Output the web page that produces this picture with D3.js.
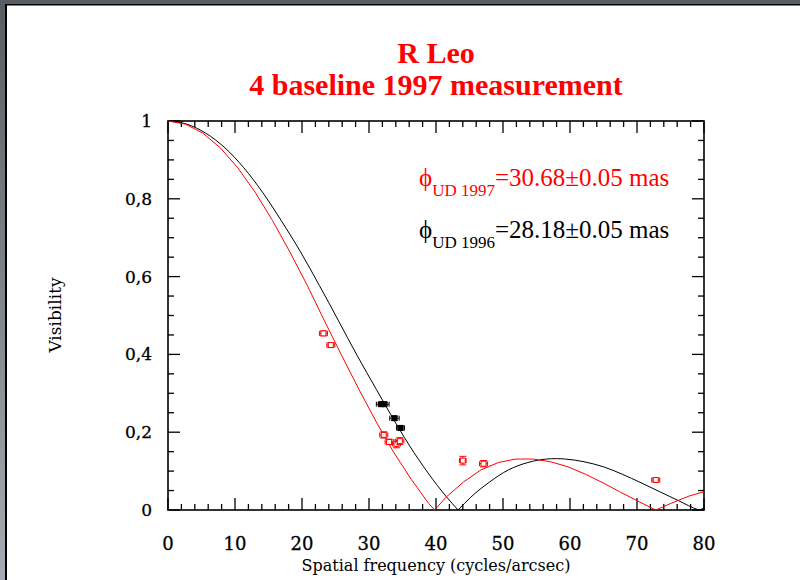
<!DOCTYPE html>
<html>
<head>
<meta charset="utf-8">
<script src="https://cdn.jsdelivr.net/npm/d3@7"></script>
<style>
	body { margin: 0; background: #fff; }
	svg { display: block; }
</style>
</head>
<body>
<div id="chart"></div>
<script>
const dest		= '#chart';

// model curves (spatial frequency, visibility)
const redFreq	= [0, 2.6, 5.2, 7.8, 10.4, 13.0, 15.6, 18.2, 20.8, 23.3, 25.9, 28.5, 31.1, 33.7, 36.3, 38.9, 39.8, 41.5, 44.1, 46.7, 49.3, 51.9, 54.5, 57.1, 59.7, 62.3, 64.9, 67.4, 70.0, 72.8, 75.2, 77.8, 80.0];
const redVis	= [1, 0.992, 0.969, 0.931, 0.880, 0.817, 0.744, 0.663, 0.577, 0.488, 0.398, 0.310, 0.226, 0.148, 0.079, 0.017, 0, 0.033, 0.072, 0.103, 0.122, 0.131, 0.131, 0.124, 0.111, 0.092, 0.070, 0.047, 0.024, 0, 0.018, 0.036, 0.047];

const blackFreq	= [0, 2.8, 5.6, 8.5, 11.3, 14.1, 16.9, 19.8, 22.6, 25.4, 28.2, 31.1, 33.9, 36.7, 39.5, 42.4, 43.3, 45.2, 48.0, 50.8, 53.7, 56.5, 58.0, 59.3, 62.1, 65.0, 67.8, 70.6, 73.4, 76.2, 79.1, 79.3, 80.0];
const blackVis	= [1, 0.992, 0.969, 0.931, 0.880, 0.817, 0.744, 0.663, 0.577, 0.488, 0.398, 0.310, 0.226, 0.148, 0.079, 0.017, 0, 0.033, 0.072, 0.103, 0.122, 0.131, 0.132, 0.131, 0.124, 0.111, 0.092, 0.070, 0.047, 0.024, 0.001, 0, 0.005];

// measurements
const redPtF	= [23.2, 24.3, 32.2, 33.0, 34.1, 34.6, 44.0, 47.1, 72.8];
const redPtV	= [0.454, 0.424, 0.193, 0.175, 0.170, 0.177, 0.127, 0.119, 0.077];
const redErrF	= [0.6, 0.6, 0.6, 0.6, 0.6, 0.6, 0.5, 0.6, 0.6];
const redErrV	= [0.006, 0.006, 0.008, 0.007, 0.010, 0.009, 0.011, 0.008, 0.005];

const blackPtF	= [31.8, 32.3, 33.8, 34.7];
const blackPtV	= [0.272, 0.272, 0.236, 0.211];
const blackErrF	= [0.7, 0.7, 0.7, 0.6];
const blackErrV	= [0.004, 0.004, 0.005, 0.005];

const xTicks	= [0, 10, 20, 30, 40, 50, 60, 70, 80];
const yTicks	= [0, 0.2, 0.4, 0.6, 0.8, 1];
const yLabels	= ['0', '0,2', '0,4', '0,6', '0,8', '1'];

const serif		= '"DejaVu Serif", serif';
const times		= '"Liberation Serif", "Times New Roman", serif';

let width		= 800;
let height		= 580;
let plot		= { left: 168, right: 704, top: 121, bottom: 510 };

let x			= d3.scaleLinear().domain([0, 80]).range([plot.left, plot.right]);
let y			= d3.scaleLinear().domain([0, 1]).range([plot.bottom, plot.top]);

let svg = d3.select(dest).append('svg')
	.attr('width', width)
	.attr('height', height);

// page edge
let grad = svg.append('defs').append('linearGradient')
	.attr('id', 'edge').attr('x1', 0).attr('y1', 0).attr('x2', 0).attr('y2', 1);
grad.append('stop').attr('offset', 0).attr('stop-color', '#575d63');
grad.append('stop').attr('offset', 1).attr('stop-color', '#a3acb4');

svg.append('rect').attr('x', 0).attr('y', 0).attr('width', width).attr('height', 4).attr('fill', '#575d63');
svg.append('rect').attr('x', 0).attr('y', 0).attr('width', 5).attr('height', height).attr('fill', 'url(#edge)');
svg.append('rect').attr('x', 5).attr('y', 4).attr('width', width - 5).attr('height', 1.5).attr('fill', '#000');
svg.append('rect').attr('x', 5).attr('y', 4).attr('width', 2).attr('height', height - 4).attr('fill', '#000');

// titles
svg.append('text')
	.attr('x', x(40)).attr('y', 63)
	.attr('text-anchor', 'middle')
	.attr('font-family', times).attr('font-weight', 'bold').attr('font-size', 30)
	.attr('fill', '#ff0000')
	.text('R Leo');

svg.append('text')
	.attr('x', x(40)).attr('y', 95)
	.attr('text-anchor', 'middle')
	.attr('font-family', times).attr('font-weight', 'bold').attr('font-size', 30)
	.attr('fill', '#ff0000')
	.text('4 baseline 1997 measurement');

// ticks
let xMinor = d3.range(0, 81, 2);
let yMinor = d3.range(0, 1.001, 0.05);
let tickG = svg.append('g').attr('stroke', '#000').attr('stroke-width', 1.3);

tickG.selectAll('.xb')
	.data(xMinor)
	.enter().append('line')
	.attr('x1', (o) => x(o)).attr('x2', (o) => x(o))
	.attr('y1', plot.bottom).attr('y2', (o) => plot.bottom - (o % 10 == 0 ? 12 : 6));

tickG.selectAll('.xt')
	.data(xMinor)
	.enter().append('line')
	.attr('x1', (o) => x(o)).attr('x2', (o) => x(o))
	.attr('y1', plot.top).attr('y2', (o) => plot.top + (o % 10 == 0 ? 12 : 6));

tickG.selectAll('.yl')
	.data(yMinor)
	.enter().append('line')
	.attr('y1', (o) => y(o)).attr('y2', (o) => y(o))
	.attr('x1', plot.left).attr('x2', (o, i) => plot.left + (i % 4 == 0 ? 12 : 6));

tickG.selectAll('.yr')
	.data(yMinor)
	.enter().append('line')
	.attr('y1', (o) => y(o)).attr('y2', (o) => y(o))
	.attr('x1', plot.right).attr('x2', (o, i) => plot.right - (i % 4 == 0 ? 12 : 6));

svg.append('rect')
	.attr('x', plot.left).attr('y', plot.top)
	.attr('width', plot.right - plot.left).attr('height', plot.bottom - plot.top)
	.attr('fill', 'none').attr('stroke', '#000').attr('stroke-width', 1.6);

// tick labels
svg.append('g')
	.selectAll('text')
	.data(xTicks)
	.enter().append('text')
	.attr('x', (o) => x(o)).attr('y', 550)
	.attr('text-anchor', 'middle')
	.attr('font-family', serif).attr('font-size', 18)
	.attr('stroke', '#000').attr('stroke-width', 0.3)
	.text((o) => o);

svg.append('g')
	.selectAll('text')
	.data(yTicks)
	.enter().append('text')
	.attr('x', 152).attr('y', (o) => y(o) + 6)
	.attr('text-anchor', 'end')
	.attr('font-family', serif).attr('font-size', 17)
	.attr('stroke', '#000').attr('stroke-width', 0.3)
	.text((o, i) => yLabels[i]);

// axis titles
svg.append('text')
	.attr('x', x(40)).attr('y', 571)
	.attr('text-anchor', 'middle')
	.attr('font-family', serif).attr('font-size', 16)
	.text('Spatial frequency (cycles/arcsec)');

svg.append('text')
	.attr('transform', 'translate(61,315) rotate(-90)')
	.attr('text-anchor', 'middle')
	.attr('font-family', serif).attr('font-size', 17)
	.text('Visibility');

// model curves, split at the zeros so the cusps stay sharp
function lobes(fs, vs) {
	let out = [], cur = [];
	fs.forEach((f, i) => {
		cur.push([f, vs[i]]);
		if (vs[i] == 0 && i > 0 && i < fs.length - 1) { out.push(cur); cur = [[f, vs[i]]]; }
	});
	out.push(cur);
	return out;
}

let smooth	= d3.line().x((o) => x(o[0])).y((o) => y(o[1])).curve(d3.curveMonotoneX);
let straight	= d3.line().x((o) => x(o[0])).y((o) => y(o[1]));

svg.append('g')
	.selectAll('path')
	.data(lobes(blackFreq, blackVis))
	.enter().append('path')
	.attr('d', smooth)
	.attr('fill', 'none').attr('stroke', '#000').attr('stroke-width', 1);

svg.append('path')
	.attr('d', straight(redFreq.map((f, i) => [f, redVis[i]])))
	.attr('fill', 'none').attr('stroke', '#ff0000').attr('stroke-width', 1);

// measured points with error bars
function drawPoints(fs, vs, ef, ev, color, filled) {
	let g = svg.append('g').attr('stroke', color).attr('stroke-width', 1);
	fs.forEach((f, i) => {
		let cx = x(f), cy = y(vs[i]);
		let x0 = x(f - ef[i]), x1 = x(f + ef[i]);
		let y0 = y(vs[i] - ev[i]), y1 = y(vs[i] + ev[i]);
		g.append('line').attr('x1', x0).attr('x2', x1).attr('y1', cy).attr('y2', cy);
		g.append('line').attr('x1', x0).attr('x2', x0).attr('y1', cy - 2.5).attr('y2', cy + 2.5);
		g.append('line').attr('x1', x1).attr('x2', x1).attr('y1', cy - 2.5).attr('y2', cy + 2.5);
		g.append('line').attr('x1', cx).attr('x2', cx).attr('y1', y0).attr('y2', y1);
		g.append('line').attr('x1', cx - 3.5).attr('x2', cx + 3.5).attr('y1', y0).attr('y2', y0);
		g.append('line').attr('x1', cx - 3.5).attr('x2', cx + 3.5).attr('y1', y1).attr('y2', y1);
		g.append('rect').attr('x', cx - 2.5).attr('y', cy - 2.5).attr('width', 5).attr('height', 5)
			.attr('fill', filled ? color : '#fff');
	});
}

drawPoints(redPtF, redPtV, redErrF, redErrV, '#ff0000', false);
drawPoints(blackPtF, blackPtV, blackErrF, blackErrV, '#000', true);

// diameter labels
function diameter(yy, sub, rest, color) {
	let t = svg.append('text')
		.attr('x', 419).attr('y', yy)
		.attr('font-family', times).attr('font-size', 25)
		.attr('fill', color);
	t.append('tspan').text('\u03d5');
	t.append('tspan').attr('font-size', 17).attr('dy', 10).text(sub);
	t.append('tspan').attr('dy', -10).text(rest);
}

diameter(186, 'UD 1997', '=30.68\u00b10.05 mas', '#ff0000');
diameter(238, 'UD 1996', '=28.18\u00b10.05 mas', '#000');
</script>
</body>
</html>
